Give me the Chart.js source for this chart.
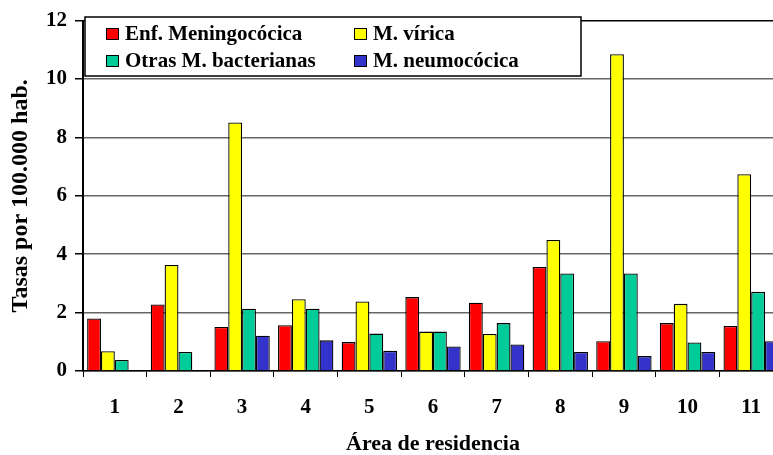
<!DOCTYPE html>
<html>
<head>
<meta charset="utf-8">
<script src="https://cdn.jsdelivr.net/npm/chart.js@4.4.1/dist/chart.umd.min.js"></script>
<style>
  html, body { margin: 0; padding: 0; background: #fff; overflow: hidden; }
  #chart { display: block; }
</style>
</head>
<body>
<canvas id="chart" width="790" height="455"></canvas>
<script>
// Tasas por 100.000 hab. segun area de residencia
const areas = ['1', '2', '3', '4', '5', '6', '7', '8', '9', '10', '11'];
const enfMeningococica = [1.80, 2.28, 1.51, 1.57, 0.99, 2.53, 2.34, 3.56, 1.02, 1.64, 1.54];
const mVirica = [0.68, 3.63, 8.51, 2.46, 2.38, 1.35, 1.27, 4.49, 10.85, 2.30, 6.74];
const otrasBacterianas = [0.38, 0.65, 2.13, 2.13, 1.28, 1.35, 1.64, 3.34, 3.34, 0.98, 2.71];
const mNeumococica = [null, null, 1.21, 1.05, 0.69, 0.84, 0.91, 0.65, 0.51, 0.65, 1.02];
const yTicks = [0, 2, 4, 6, 8, 10, 12];

const serif = '"Liberation Serif", "Times New Roman", serif';
Chart.defaults.font.family = serif;
Chart.defaults.color = '#000';

// legend drawn as a boxed overlay on top of the plot, two columns
const boxLegend = {
    id: 'boxLegend',
    afterDraw(chart) {
        const ctx = chart.ctx;
        const box = {x: 85, y: 17, w: 496, h: 59};
        ctx.save();
        ctx.fillStyle = '#fff';
        ctx.fillRect(box.x, box.y, box.w, box.h);
        ctx.strokeStyle = '#000';
        ctx.lineWidth = 1.5;
        ctx.strokeRect(box.x, box.y, box.w, box.h);

        ctx.font = 'bold 21px ' + serif;
        ctx.textBaseline = 'middle';
        ctx.textAlign = 'left';
        const cols = [106, 354];
        const rows = [34, 61];
        chart.data.datasets.forEach((ds, i) => {
            const sx = cols[i % 2];
            const sy = rows[Math.floor(i / 2)];
            ctx.fillStyle = ds.backgroundColor;
            ctx.fillRect(sx, sy - 6, 13, 12);
            ctx.lineWidth = 1;
            ctx.strokeStyle = '#000';
            ctx.strokeRect(sx + 0.5, sy - 5.5, 12, 11);
            ctx.fillStyle = '#000';
            ctx.fillText(ds.label, sx + 19, sy + 1);
        });
        ctx.restore();
    }
};

new Chart(document.getElementById('chart'), {
    type: 'bar',
    data: {
        labels: areas,
        datasets: [
            {label: 'Enf. Meningocócica', data: enfMeningococica, backgroundColor: '#ff0000'},
            {label: 'M. vírica', data: mVirica, backgroundColor: '#ffff00'},
            {label: 'Otras M. bacterianas', data: otrasBacterianas, backgroundColor: '#00cc99'},
            {label: 'M. neumocócica', data: mNeumococica, backgroundColor: '#3333cc'}
        ].map(ds => Object.assign(ds, {
            borderColor: '#000',
            borderWidth: 1.3,
            categoryPercentage: 0.87,
            barPercentage: 1.0
        }))
    },
    options: {
        responsive: false,
        animation: false,
        layout: {padding: {top: 18, right: 7, left: 0, bottom: 0}},
        plugins: {
            legend: {display: false},
            tooltip: {enabled: false}
        },
        scales: {
            x: {
                afterFit(scale) { scale.height = 84; },
                grid: {
                    offset: true,
                    drawOnChartArea: false,
                    tickLength: 6,
                    color: '#000',
                    lineWidth: 1
                },
                border: {color: '#000', width: 1.5},
                ticks: {
                    autoSkip: false,
                    maxRotation: 0,
                    padding: 18,
                    font: {size: 21, weight: 'bold'}
                },
                title: {
                    display: true,
                    text: 'Área de residencia',
                    font: {size: 22, weight: 'bold', lineHeight: 1},
                    padding: {top: 0, bottom: 0}
                }
            },
            y: {
                min: 0,
                max: 12,
                afterFit(scale) { scale.width = 83; },
                afterBuildTicks(scale) { scale.ticks = yTicks.map(v => ({value: v})); },
                grid: {
                    color: c => (c.tick && c.tick.value === 12) ? '#000' : '#666',
                    lineWidth: 1.5,
                    tickLength: 8,
                    tickColor: '#000'
                },
                border: {color: '#000', width: 2},
                ticks: {
                    padding: 8,
                    font: {size: 21, weight: 'bold'}
                },
                title: {
                    display: true,
                    text: 'Tasas por 100.000 hab.',
                    font: {size: 24, weight: 'bold', lineHeight: 1},
                    padding: {top: 9, bottom: 0}
                }
            }
        }
    },
    plugins: [boxLegend]
});
</script>
</body>
</html>
